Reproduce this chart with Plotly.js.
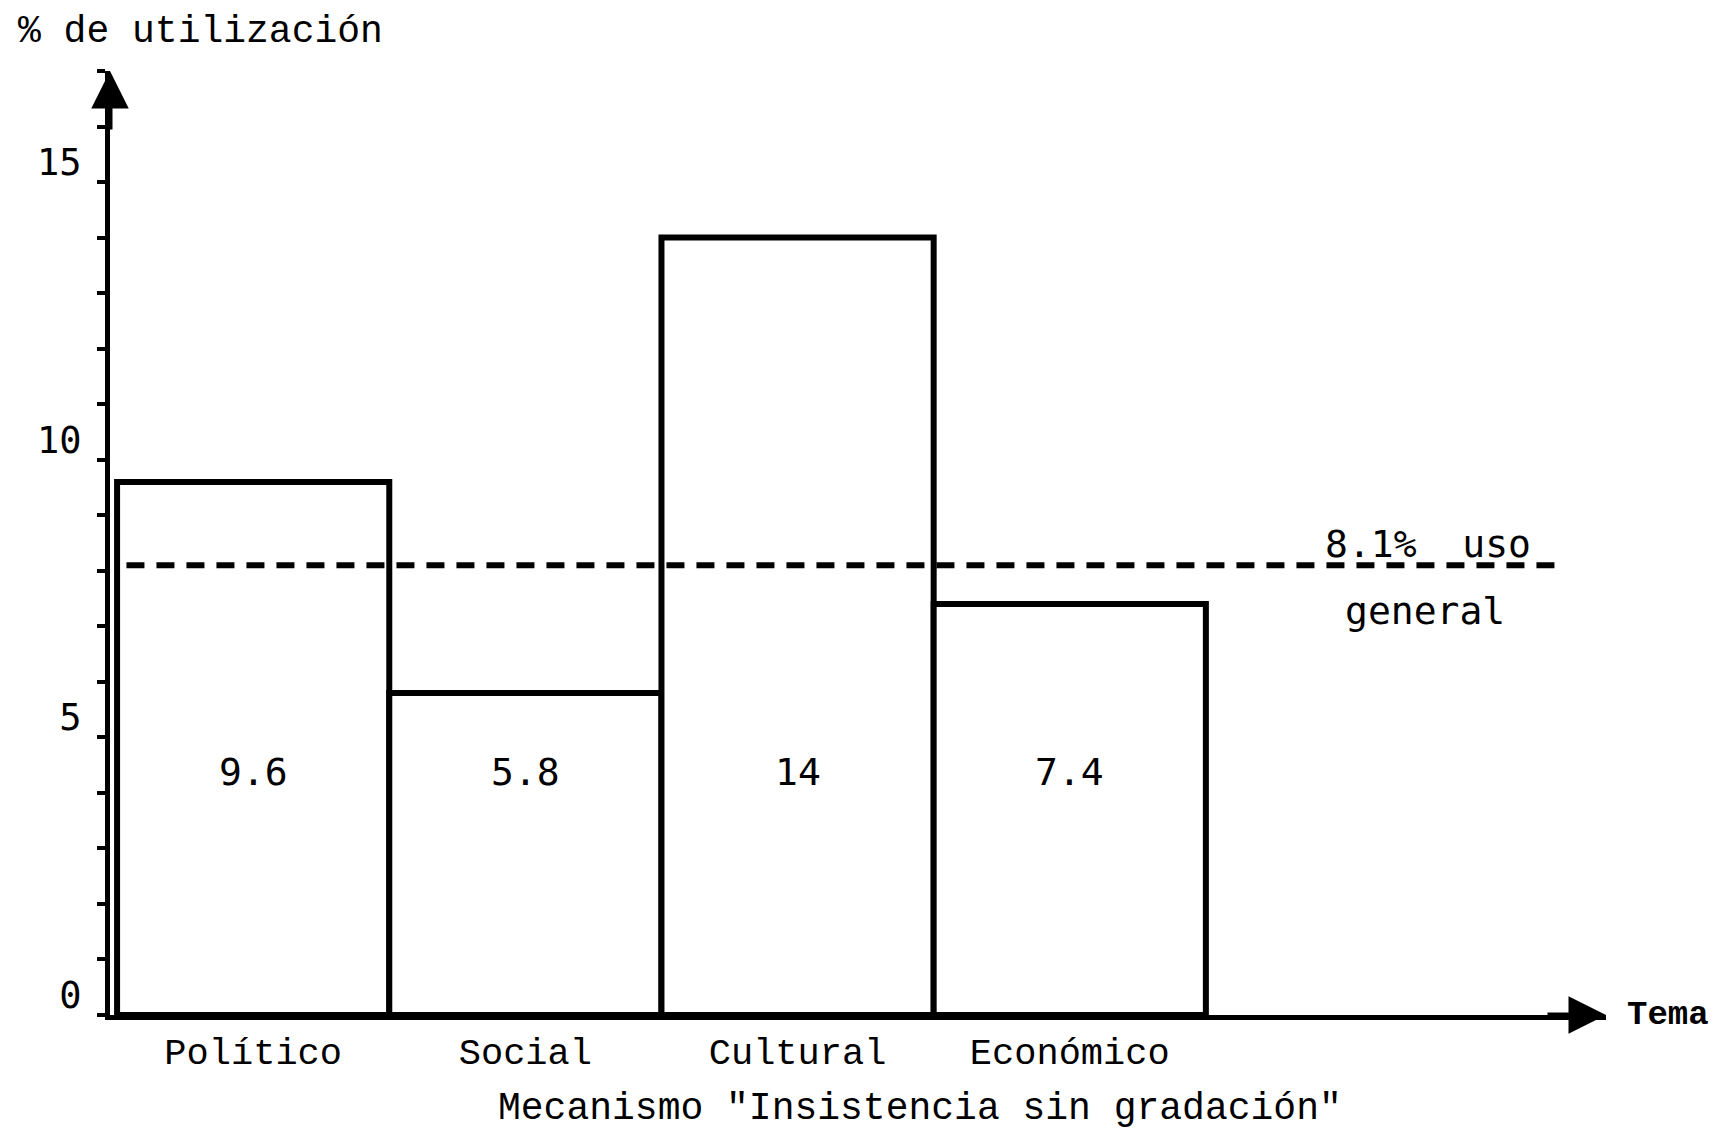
<!DOCTYPE html>
<html>
<head>
<meta charset="utf-8">
<script src="https://cdn.plot.ly/plotly-3.0.1.min.js"></script>
<style>html,body{margin:0;padding:0;background:#fff;}#chart{width:1719px;height:1137px;}</style>
</head>
<body>
<div id="chart"></div>
<script>
// ---- data ----
const categories = ["Político", "Social", "Cultural", "Económico"];
const values = [9.6, 5.8, 14, 7.4];
const valueLabels = ["9.6", "5.8", "14", "7.4"];
const generalUse = 8.1;
const generalUseLabel = ["8.1%  uso", "general"];
const yTickVals = [0, 5, 10, 15];
const yTickText = ["0", "5", "10", "15"];
const yTitle = "% de utilización";
const xTitle = "Mecanismo \"Insistencia sin gradación\"";
const xEndLabel = "Tema";

const monoFont = "Liberation Mono, Courier New, monospace";
const sansMono = "DejaVu Sans Mono, monospace";

const trace = {
  type: "bar",
  x: categories,
  y: values,
  width: 1,
  marker: {color: "#ffffff", line: {color: "#000000", width: 6}},
  hoverinfo: "x+y",
  showlegend: false
};

const annotations = [];
// value labels inside bars (at a fixed height)
categories.forEach((c, i) => {
  annotations.push({
    x: c, y: 4.37, xref: "x", yref: "y", xanchor: "center", yanchor: "middle",
    text: valueLabels[i], showarrow: false,
    font: {family: sansMono, size: 38, color: "#000"}
  });
});
// general use label
annotations.push({x: 0.881, y: 8.48, xref: "paper", yref: "y", xanchor: "center", yanchor: "middle",
  text: generalUseLabel[0], showarrow: false, font: {family: sansMono, size: 38, color: "#000"}});
annotations.push({x: 0.879, y: 7.27, xref: "paper", yref: "y", xanchor: "center", yanchor: "middle",
  text: generalUseLabel[1], showarrow: false, font: {family: sansMono, size: 38, color: "#000"}});
// axis titles
annotations.push({x: -0.063, y: 1.042, xref: "paper", yref: "paper", xanchor: "left", yanchor: "middle",
  text: yTitle, showarrow: false, font: {family: monoFont, size: 38, color: "#000"}});
annotations.push({x: 0.5415, y: -0.099, xref: "paper", yref: "paper", xanchor: "center", yanchor: "middle",
  text: xTitle, showarrow: false, font: {family: monoFont, size: 38, color: "#000"}});
annotations.push({x: 1.0127, y: 0, xref: "paper", yref: "y", xanchor: "left", yanchor: "middle",
  text: xEndLabel, showarrow: false, font: {family: monoFont, size: 34, color: "#000", weight: "bold"}});
// axis arrowheads
annotations.push({x: 1, y: 0, xref: "paper", yref: "y", ax: -60, ay: 0, axref: "pixel", ayref: "pixel",
  text: "", showarrow: true, arrowhead: 2, arrowsize: 1.5, arrowwidth: 5, arrowcolor: "#000"});
annotations.push({x: 0, y: 1, xref: "paper", yref: "paper", ax: 0, ay: 60, axref: "pixel", ayref: "pixel",
  text: "", showarrow: true, arrowhead: 2, arrowsize: 1.5, arrowwidth: 5, arrowcolor: "#000"});

const layout = {
  width: 1719, height: 1137,
  margin: {l: 110, r: 113, t: 71, b: 122},
  paper_bgcolor: "#ffffff", plot_bgcolor: "#ffffff",
  bargap: 0,
  showlegend: false,
  xaxis: {
    type: "category",
    range: [-0.526, 4.97],
    showline: true, linecolor: "#000", linewidth: 5,
    showgrid: false, zeroline: false,
    ticks: "", ticklabelstandoff: 0,
    tickfont: {family: monoFont, size: 37, color: "#000"}
  },
  yaxis: {
    range: [0, 17],
    showline: true, linecolor: "#000", linewidth: 5,
    showgrid: false, zeroline: false,
    tickmode: "array", tickvals: yTickVals, ticktext: yTickText,
    ticks: "outside", ticklen: 8, tickwidth: 4, tickcolor: "#000",
    ticklabelstandoff: 8, ticklabelshift: -20,
    minor: {dtick: 1, tick0: 0, ticks: "outside", ticklen: 8, tickwidth: 4, tickcolor: "#000", showgrid: false},
    tickfont: {family: sansMono, size: 37, color: "#000"}
  },
  shapes: [{
    type: "line", xref: "paper", yref: "y",
    x0: 0.011, x1: 0.966, y0: generalUse, y1: generalUse,
    line: {color: "#000", width: 6, dash: "18px,12px"}
  }],
  annotations: annotations
};

Plotly.newPlot("chart", [trace], layout, {displayModeBar: false, staticPlot: true});
</script>
</body>
</html>
